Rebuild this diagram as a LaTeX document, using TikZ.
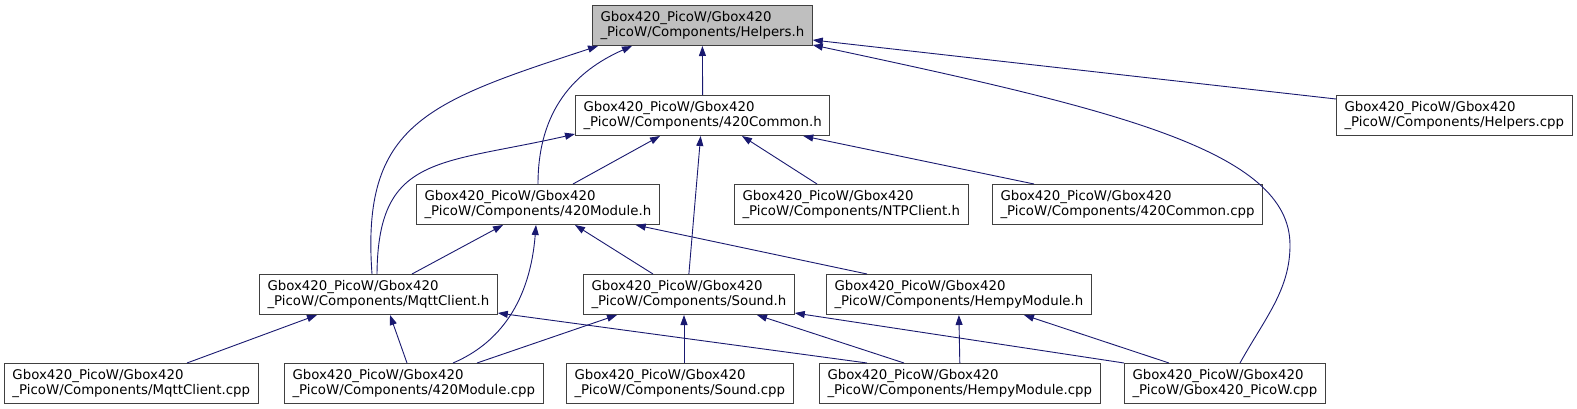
\documentclass[tikz,border=0pt]{standalone}
\usepackage{fontspec}
\setmainfont{DejaVu Sans}
\usepackage{tikz}
\usetikzlibrary{arrows.meta}
\definecolor{edgeBlue}{HTML}{191970}
\definecolor{boxLine}{HTML}{404040}
\definecolor{rootFill}{HTML}{BFBFBF}

\begin{document}
\begin{tikzpicture}[x=1pt, y=-1pt,
  file/.style={rectangle, draw=boxLine, fill=white, line width=1pt,
               anchor=north west, minimum height=40pt, inner xsep=8pt,
               inner ysep=0pt, align=left,
               font=\fontsize{13.33pt}{15.5pt}\selectfont},
  root/.style={file, fill=rootFill},
  dep/.style={-{Triangle[length=10pt, width=7pt]}, draw=edgeBlue, line width=0.9pt},
]
  \path[use as bounding box, fill=white] (0,0) rectangle (1577,409);

  % include graph, one row per rank
  \node[root] (helpersH) at (592,5) {Gbox420\_PicoW/Gbox420\\\_PicoW/Components/Helpers.h};

  \node[file] (commonH) at (575,95) {Gbox420\_PicoW/Gbox420\\\_PicoW/Components/420Common.h};
  \node[file] (helpersCpp) at (1336,95) {Gbox420\_PicoW/Gbox420\\\_PicoW/Components/Helpers.cpp};

  \node[file] (moduleH) at (416,184) {Gbox420\_PicoW/Gbox420\\\_PicoW/Components/420Module.h};
  \node[file] (ntpH) at (734,184) {Gbox420\_PicoW/Gbox420\\\_PicoW/Components/NTPClient.h};
  \node[file] (commonCpp) at (992,184) {Gbox420\_PicoW/Gbox420\\\_PicoW/Components/420Common.cpp};

  \node[file] (mqttH) at (259,274) {Gbox420\_PicoW/Gbox420\\\_PicoW/Components/MqttClient.h};
  \node[file] (soundH) at (583,274) {Gbox420\_PicoW/Gbox420\\\_PicoW/Components/Sound.h};
  \node[file] (hempyH) at (826,274) {Gbox420\_PicoW/Gbox420\\\_PicoW/Components/HempyModule.h};

  \node[file] (mqttCpp) at (4,363) {Gbox420\_PicoW/Gbox420\\\_PicoW/Components/MqttClient.cpp};
  \node[file] (moduleCpp) at (284,363) {Gbox420\_PicoW/Gbox420\\\_PicoW/Components/420Module.cpp};
  \node[file] (soundCpp) at (566,363) {Gbox420\_PicoW/Gbox420\\\_PicoW/Components/Sound.cpp};
  \node[file] (hempyCpp) at (819,363) {Gbox420\_PicoW/Gbox420\\\_PicoW/Components/HempyModule.cpp};
  \node[file] (picowCpp) at (1124,363) {Gbox420\_PicoW/Gbox420\\\_PicoW/Gbox420\_PicoW.cpp};

  \coordinate (picowBend) at (1290,245);

  % edges into Helpers.h
  \draw[dep] (commonH.north) -- (helpersH.south);
  \draw[dep] ([yshift=-4pt]helpersCpp.north west) -- ([yshift=6pt]helpersH.south east);
  \draw[dep] ([xshift=122pt]moduleH.north west) .. controls +(0,-74) and +(-57,25) .. ([xshift=40pt]helpersH.south west);
  \draw[dep] ([xshift=113pt]mqttH.north west) .. controls +(-11,-150) and +(-171,56) .. ([xshift=6pt]helpersH.south west);
  \draw[dep] ([xshift=116pt]picowCpp.north west) .. controls +(25,-45) and +(0,45) .. (picowBend)
             .. controls +(0,-95) and +(300,64) .. ([yshift=1pt]helpersH.south east);

  % edges into 420Common.h
  \draw[dep] ([xshift=118pt]mqttH.north west) .. controls +(1,-120) and +(-136,31) .. ([yshift=2pt]commonH.south west);
  \draw[dep] ([xshift=157pt]moduleH.north west) -- ([xshift=85pt]commonH.south west);
  \draw[dep] (soundH.north) -- ([xshift=-2pt]commonH.south);
  \draw[dep] ([xshift=83pt]ntpH.north west) -- ([xshift=167pt]commonH.south west);
  \draw[dep] ([xshift=42pt]commonCpp.north west) -- ([xshift=-27pt]commonH.south east);

  % edges into 420Module.h
  \draw[dep] ([xshift=153pt]mqttH.north west) -- ([xshift=87pt]moduleH.south west);
  \draw[dep] ([xshift=70pt]soundH.north west) -- ([xshift=159pt]moduleH.south west);
  \draw[dep] ([xshift=41pt]hempyH.north west) -- ([xshift=-24pt]moduleH.south east);
  \draw[dep] ([xshift=169pt]moduleCpp.north west) .. controls +(47,-20) and +(-6,76) .. ([xshift=120pt]moduleH.south west);

  % edges into MqttClient.h
  \draw[dep] ([xshift=183pt]mqttCpp.north west) -- ([xshift=58pt]mqttH.south west);
  \draw[dep] ([xshift=123pt]moduleCpp.north west) -- ([xshift=131pt]mqttH.south west);
  \draw[dep] ([xshift=48pt]hempyCpp.north west) -- ([yshift=2pt]mqttH.south east);

  % edges into Sound.h
  \draw[dep] ([xshift=193pt]moduleCpp.north west) -- ([xshift=34pt]soundH.south west);
  \draw[dep] ([xshift=118pt]soundCpp.north west) -- ([xshift=101pt]soundH.south west);
  \draw[dep] ([xshift=85pt]hempyCpp.north west) -- ([xshift=174pt]soundH.south west);
  \draw[dep] (picowCpp.north west) -- ([yshift=2pt]soundH.south east);

  % edges into HempyModule.h
  \draw[dep] (hempyCpp.north) -- (hempyH.south);
  \draw[dep] ([xshift=45pt]picowCpp.north west) -- ([xshift=198pt]hempyH.south west);
\end{tikzpicture}
\end{document}
